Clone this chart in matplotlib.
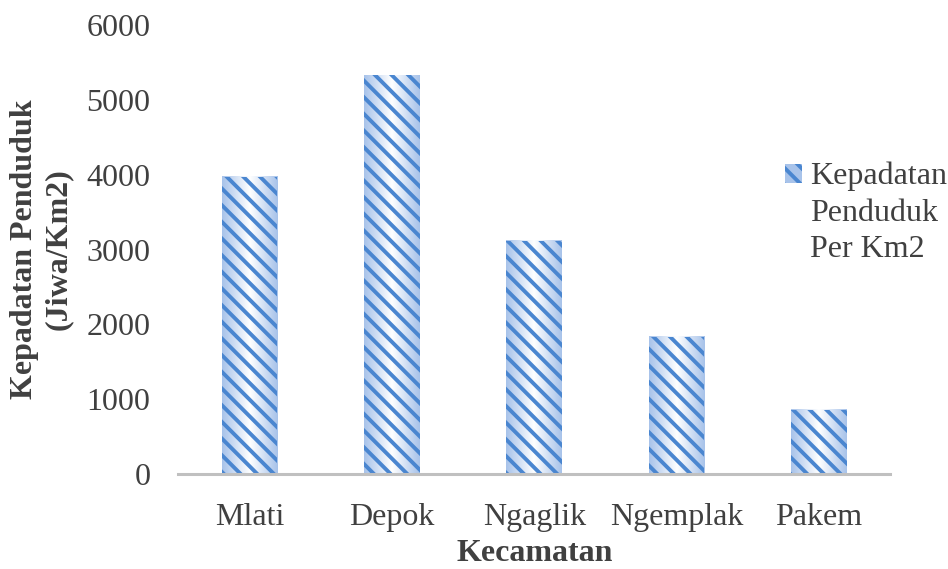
"""Population density per kecamatan, hatched bar chart."""

import matplotlib.pyplot as plt
import numpy as np
from matplotlib.colors import LinearSegmentedColormap
from matplotlib.patches import Patch

kecamatan = ["Mlati", "Depok", "Ngaglik", "Ngemplak", "Pakem"]
kepadatan = [3975, 5330, 3115, 1835, 860]
y_ticks = [0, 1000, 2000, 3000, 4000, 5000, 6000]
legend_lines = ["Kepadatan", "Penduduk", "Per Km2"]

plt.rcParams["font.family"] = ["Liberation Serif", "DejaVu Serif"]
plt.rcParams["hatch.linewidth"] = 2.8

hatch_blue = "#4a86d0"
text_grey = "#404040"
fade = LinearSegmentedColormap.from_list("fade", ["#a8c3ea", "#ffffff", "#a8c3ea"])

fig = plt.figure(figsize=(9.48, 5.69), dpi=100)
ax = fig.add_axes([0.188, 0.167, 0.751, 0.789])

x = np.arange(len(kecamatan))
bars = ax.bar(
    x,
    kepadatan,
    width=0.39,
    color="none",
    edgecolor=hatch_blue,
    linewidth=0,
    hatch="\\\\",
    zorder=3,
)

# soft side-to-side fill behind each hatched bar
gradient = np.linspace(0, 1, 64).reshape(1, -1)
for bar in bars:
    bx, bw, bh = bar.get_x(), bar.get_width(), bar.get_height()
    ax.imshow(
        gradient,
        cmap=fade,
        extent=(bx, bx + bw, 0, bh),
        aspect="auto",
        interpolation="bicubic",
        zorder=2,
    )

ax.set_xlim(-0.5, len(kecamatan) - 0.5)
ax.set_ylim(0, 6000)
ax.set_yticks(y_ticks)
ax.set_xticks(x)
ax.set_xticklabels(kecamatan)
ax.tick_params(axis="both", length=0, labelsize=23, colors=text_grey)
ax.tick_params(axis="y", pad=20)
ax.tick_params(axis="x", pad=21)

for side in ("top", "right", "left"):
    ax.spines[side].set_visible(False)
ax.spines["bottom"].set_color("#c0c0c0")
ax.spines["bottom"].set_linewidth(2.2)
ax.spines["bottom"].set_zorder(4)

ax.set_xlabel("Kecamatan", fontsize=23, fontweight="bold", color=text_grey, labelpad=5)
ax.set_ylabel(
    "Kepadatan Penduduk\n(Jiwa/Km2)",
    fontsize=23,
    fontweight="bold",
    color=text_grey,
    labelpad=10,
    linespacing=1.2,
)

handle = Patch(facecolor="#a8c3ea", edgecolor=hatch_blue, linewidth=0, hatch="\\\\")
fig.legend(
    handles=[handle],
    labels=[legend_lines[0]],
    loc="upper left",
    bbox_to_anchor=(785 / 948, 1 - 162 / 569),
    borderpad=0,
    borderaxespad=0,
    frameon=False,
    fontsize=23,
    labelcolor=text_grey,
    handlelength=0.53,
    handleheight=0.53,
    handletextpad=0.25,
)
fig.text(
    810 / 948,
    1 - 199 / 569,
    "\n".join(legend_lines[1:]),
    ha="left",
    va="top",
    fontsize=23,
    color=text_grey,
    linespacing=1.3,
)

fig.savefig("out.png", dpi=100)
